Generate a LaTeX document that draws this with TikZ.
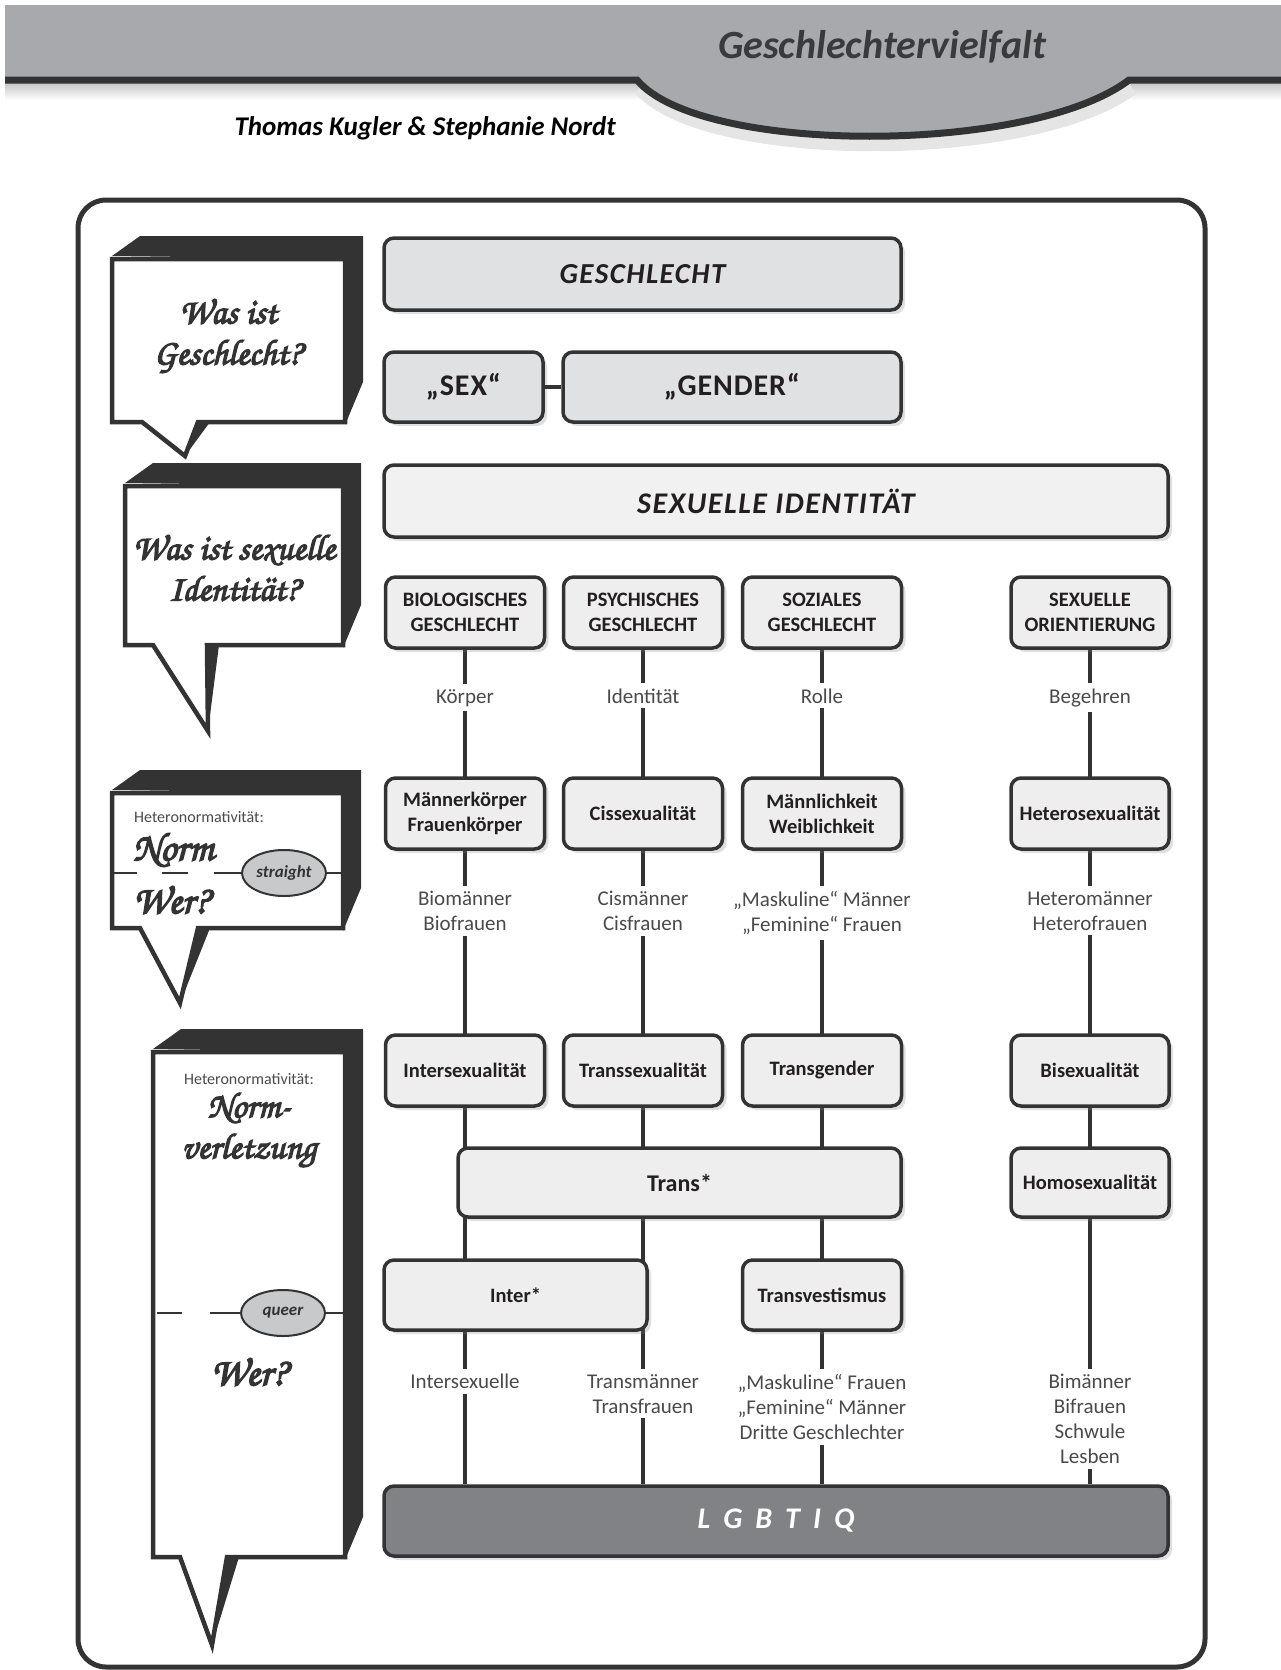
\documentclass[tikz,border=0pt]{standalone}
\usepackage{fontspec}
\setmainfont{Carlito}
\newfontfamily\handfont[Extension=.otf,FakeBold=3.5]{texgyrechorus-mediumitalic}
\usetikzlibrary{shapes.geometric,shadows,backgrounds}

\definecolor{bandgray}{HTML}{A7A9AC}
\definecolor{inkdark}{HTML}{333334}
\definecolor{titletext}{HTML}{3A3A3C}
\definecolor{boxfill}{HTML}{EEEEEF}
\definecolor{headfill}{HTML}{E0E1E2}
\definecolor{idfill}{HTML}{F1F1F2}
\definecolor{lgbtfill}{HTML}{818285}
\definecolor{ovalfill}{HTML}{C8C9CB}
\definecolor{boxtext}{HTML}{231F20}
\definecolor{labeltext}{HTML}{4A4A4C}

\tikzset{
  catbox/.style={draw=inkdark, line width=3.5pt, rounded corners=10pt, fill=boxfill,
    inner sep=0pt, align=center, minimum width=159pt, minimum height=71pt,
    text=boxtext, font=\fontsize{20.5}{25}\selectfont\bfseries,
    drop shadow={shadow xshift=4pt, shadow yshift=-4pt, opacity=.25}},
  titlebox/.style={catbox, fill=headfill,
    font=\fontsize{29}{34}\selectfont\bfseries\itshape\addfontfeatures{LetterSpace=5}},
  quotebox/.style={catbox, fill=headfill,
    font=\fontsize{30}{34}\selectfont\bfseries\addfontfeatures{LetterSpace=3}},
  idbox/.style={catbox, fill=idfill,
    font=\fontsize{30}{34}\selectfont\bfseries\itshape\addfontfeatures{LetterSpace=5}},
  lgbtbox/.style={catbox, fill=lgbtfill, text=white,
    font=\fontsize{30}{34}\selectfont\bfseries\itshape},
  conn/.style={draw=inkdark, line width=4pt},
  lbl/.style={fill=white, inner xsep=3pt, inner ysep=5pt, align=center,
    font=\fontsize{21}{25}\selectfont, text=labeltext},
  handtxt/.style={font=\handfont\fontsize{36}{41}\selectfont, text=inkdark,
    align=center, inner sep=0pt},
  bighand/.style={handtxt, font=\handfont\fontsize{40}{44}\selectfont},
  smalltxt/.style={font=\fontsize{16}{19}\selectfont, text=labeltext, inner sep=0pt},
  oval/.style={ellipse, draw=inkdark, line width=2pt, fill=ovalfill,
    minimum width=84pt, minimum height=46pt, inner sep=0pt,
    font=\fontsize{17}{20}\selectfont\bfseries\itshape, text=inkdark},
  dashline/.style={draw=inkdark, line width=2pt}
}

% speech bubble: x1, y1, x2, y2, tail left, tail right, tip x, tip y
\newcommand{\speechbox}[8]{%
  \fill[inkdark] (#1,{#2-3}) -- ({#1+28},{#2-23}) -- ({#3+18},{#2-23})
    -- ({#3+18},{#4-40}) -- (#3,{#4+3}) -- (#3,#2) -- cycle;
  \fill[inkdark] (#6,#4) -- ({#6+12},#4) -- (#7,#8) -- cycle;
  \filldraw[fill=white, draw=inkdark, line width=4.5pt]
    (#1,#2) -- (#3,#2) -- (#3,#4) -- (#6,#4) -- (#7,#8) -- (#5,#4) -- (#1,#4) -- cycle;
}

\begin{document}
\begin{tikzpicture}[x=1pt,y=-1pt]
  \useasboundingbox (0,0) rectangle (1281,1670);

  % header
  \fill[bandgray] (5,5) rectangle (1281,80);
  \shade[top color=black!22, bottom color=white] (5,83) rectangle (1281,100);
  \draw[black!10, line width=14pt] (640,88) .. controls (703,163) and (1033,163) .. (1132,88);
  \fill[bandgray] (637,78) .. controls (700,155) and (1030,155) .. (1129,78) -- cycle;
  \draw[inkdark, line width=7pt] (5,80) -- (637,80) .. controls (700,155) and (1030,155) .. (1129,80) -- (1281,80);
  \node[font=\fontsize{40}{44}\selectfont\bfseries\itshape, text=titletext] (title) at (882,47) {Geschlechtervielfalt};
  \node[anchor=west, font=\fontsize{27}{30}\selectfont\bfseries\itshape, text=black] (authors) at (231,128) {Thomas Kugler \& Stephanie Nordt};

  % frame
  \draw[inkdark, line width=5pt, rounded corners=28pt] (78,200) rectangle (1205,1667);

  % speech bubbles
  \speechbox{112}{259}{345}{422}{142}{198}{185}{456}
  \speechbox{125}{486}{343}{645}{153}{207}{208}{731}
  \speechbox{112}{793}{343}{928}{140}{198}{180}{1003}
  \speechbox{153}{1052}{345}{1557}{180}{227}{212}{1645}

  \node[handtxt] (qgesch) at (228,336) {Was ist\\Geschlecht?};
  \node[handtxt] (qident) at (234,568) {Was ist sexuelle\\Identität?};

  \node[smalltxt, anchor=west] (hnorm) at (134,817) {Heteronormativität:};
  \node[bighand, anchor=west] (norm) at (133,850) {Norm};
  \node[bighand, anchor=west] (wer) at (133,900) {Wer?};
  \node[oval] (straight) at (284,873) {straight};
  \coordinate (s1) at (114,873);
  \coordinate (s2) at (162,873);
  \coordinate (s3) at (214,873);
  \coordinate (s4) at (343,873);
  \draw[dashline] (s1) -- ++(23,0) (s2) -- ++(26,0) (s3) -- (straight) (straight) -- (s4);

  \node[smalltxt] (hverl) at (249,1079) {Heteronormativität:};
  \node[handtxt] (normv) at (249,1130) {Norm-\\verletzung};
  \node[bighand] (wer2) at (249,1372) {Wer?};
  \node[oval] (queer) at (283,1313) {queer};
  \coordinate (q1) at (157,1313);
  \coordinate (q2) at (210,1313);
  \coordinate (q3) at (345,1313);
  \draw[dashline] (q1) -- ++(25,0) (q2) -- (queer) (queer) -- (q3);

  % boxes
  \node[titlebox, minimum width=517pt, minimum height=72pt] (geschlecht) at (642.5,274) {GESCHLECHT};
  \node[quotebox, minimum height=70pt] (sex) at (463.5,387) {„SEX“};
  \node[quotebox, minimum width=338pt, minimum height=70pt] (gender) at (732,387) {„GENDER“};
  \node[idbox, minimum width=784pt, minimum height=72pt] (sexid) at (776,501) {SEXUELLE IDENTITÄT};

  \node[catbox] (bio) at (465,612.5) {BIOLOGISCHES\\GESCHLECHT};
  \node[catbox] (psy) at (643,612.5) {PSYCHISCHES\\GESCHLECHT};
  \node[catbox] (soz) at (822,612.5) {SOZIALES\\GESCHLECHT};
  \node[catbox, minimum width=158pt] (orient) at (1090,612.5) {SEXUELLE\\ORIENTIERUNG};

  \node[lbl, anchor=base] (koerper) at (465,703) {Körper};
  \node[lbl, anchor=base] (identitaet) at (643,703) {Identität};
  \node[lbl, anchor=base] (rolle) at (822,703) {Rolle};
  \node[lbl, anchor=base] (begehren) at (1090,703) {Begehren};

  \node[catbox] (mkoerper) at (465,813.5) {Männerkörper\\Frauenkörper};
  \node[catbox] (ciss) at (643,813.5) {Cissexualität};
  \node[catbox] (mweibl) at (822,813.5) {Männlichkeit\\Weiblichkeit};
  \node[catbox, minimum width=158pt] (hetero) at (1090,813.5) {Heterosexualität};

  \node[lbl, anchor=north] (biom) at (465,886) {Biomänner\\Biofrauen};
  \node[lbl, anchor=north] (cism) at (643,886) {Cismänner\\Cisfrauen};
  \node[lbl, anchor=north] (maskm) at (822,886) {„Maskuline“ Männer\\„Feminine“ Frauen};
  \node[lbl, anchor=north] (heterom) at (1090,886) {Heteromänner\\Heterofrauen};

  \node[catbox] (intersex) at (465,1070.5) {Intersexualität};
  \node[catbox] (transsex) at (643,1070.5) {Transsexualität};
  \node[catbox] (transgender) at (822,1070.5) {Transgender};
  \node[catbox, minimum width=158pt] (bisex) at (1090,1070.5) {Bisexualität};

  \node[catbox, minimum width=443pt, minimum height=69pt, font=\fontsize{24}{28}\selectfont\bfseries] (trans) at (679.5,1182.5) {Trans*};
  \node[catbox, minimum width=158pt, minimum height=69pt] (homo) at (1090,1182.5) {Homosexualität};

  \node[catbox, minimum width=263pt, minimum height=70pt] (inter) at (515.5,1295) {Inter*};
  \node[catbox, minimum height=70pt] (transvest) at (822,1295) {Transvestismus};

  \node[lbl, anchor=north] (intersexuelle) at (465,1369) {Intersexuelle};
  \node[lbl, anchor=north] (transm) at (643,1369) {Transmänner\\Transfrauen};
  \node[lbl, anchor=north] (maskf) at (822,1369) {„Maskuline“ Frauen\\„Feminine“ Männer\\Dritte Geschlechter};
  \node[lbl, anchor=north] (bim) at (1090,1369) {Bimänner\\Bifrauen\\Schwule\\Lesben};

  \node[lgbtbox, minimum width=784pt, minimum height=70pt] (lgbtiq) at (776,1521)
    {L\hspace{13pt}G\hspace{13pt}B\hspace{13pt}T\hspace{13pt}I\hspace{13pt}Q};

  % connectors
  \draw[conn] (sex) -- (gender);
  \begin{pgfonlayer}{background}
    \foreach \col in {bio,psy,soz,orient}
      \draw[conn] (\col.south) -- (\col.south |- lgbtiq.north);
  \end{pgfonlayer}
\end{tikzpicture}
\end{document}
